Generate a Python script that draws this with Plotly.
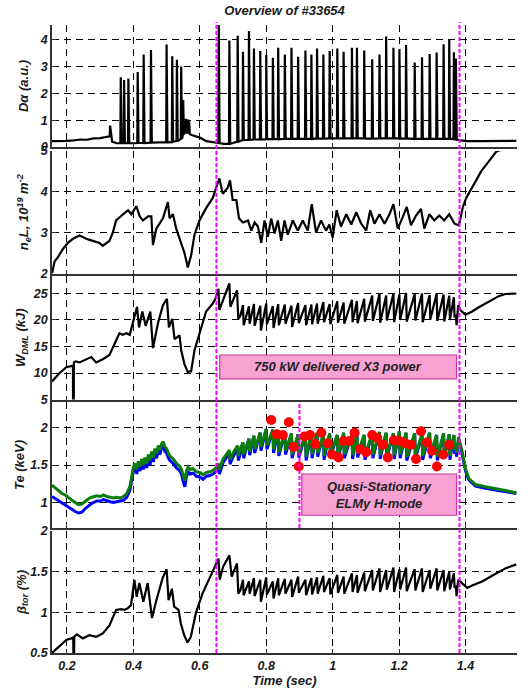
import plotly.graph_objects as go

# ---------------- data ----------------
X_RANGE = [0.155, 1.555]
X_TICKS = [0.2, 0.4, 0.6, 0.8, 1.0, 1.2, 1.4]
X_TICK_TEXT = ["0.2", "0.4", "0.6", "0.8", "1", "1.2", "1.4"]

# D-alpha baseline (time, a.u.)
DA_BASE_T = [0.155, 0.18, 0.20, 0.22, 0.24, 0.26, 0.28, 0.30, 0.315, 0.325, 0.336, 0.35, 0.378, 0.40, 0.44, 0.48, 0.52, 0.540,
             0.552, 0.553, 0.555, 0.556, 0.558, 0.559, 0.561, 0.562, 0.564, 0.565, 0.567, 0.568, 0.570, 0.575, 0.585,
             0.60, 0.62, 0.64, 0.672, 0.70, 0.74, 0.80, 0.90, 1.00, 1.10, 1.20, 1.30, 1.36, 1.38, 1.40, 1.45, 1.50, 1.553]
DA_BASE_V = [0.22, 0.22, 0.23, 0.25, 0.28, 0.27, 0.32, 0.33, 0.37, 0.40, 0.20, 0.14, 0.13, 0.14, 0.16, 0.17, 0.20, 0.30,
             0.50, 1.05, 0.50, 1.00, 0.52, 1.05, 0.50, 1.00, 0.52, 1.02, 0.50, 0.95, 0.48, 0.45, 0.42,
             0.35, 0.22, 0.18, 0.12, 0.15, 0.26, 0.28, 0.30, 0.32, 0.31, 0.32, 0.30, 0.30, 0.26, 0.22, 0.22, 0.23, 0.23]
# L-mode / dithering spikes
L_SPIKE_T = [0.330, 0.362, 0.372, 0.385, 0.413, 0.431, 0.453, 0.500, 0.517, 0.531, 0.544, 0.550]
L_SPIKE_V = [0.80, 2.60, 2.50, 2.55, 2.80, 3.45, 3.62, 3.82, 3.38, 3.25, 3.00, 1.75]
L_SPIKE_FOOT = [0.40, 0.14, 0.14, 0.14, 0.15, 0.15, 0.16, 0.17, 0.18, 0.22, 0.30, 0.45]
# ELMs in H-mode
ELM_T = [0.657, 0.689, 0.714, 0.730, 0.748, 0.763, 0.782, 0.800, 0.820, 0.836, 0.856, 0.876, 0.896, 0.918,
         0.936, 0.953, 0.972, 0.991, 1.014, 1.033, 1.058, 1.073, 1.095, 1.119, 1.141, 1.161, 1.183, 1.201,
         1.221, 1.247, 1.269, 1.292, 1.313, 1.334, 1.351, 1.365, 1.371]
ELM_PEAK = [4.60, 3.97, 4.15, 3.55, 4.33, 3.67, 3.58, 3.43, 3.33, 3.70, 3.45, 3.70, 3.37, 3.60, 3.45, 3.67,
            3.45, 3.58, 3.67, 3.55, 3.70, 3.70, 3.60, 3.27, 3.45, 4.12, 3.70, 3.65, 3.80, 3.15, 3.35, 3.47,
            3.52, 3.83, 4.00, 3.53, 3.30]
ELM_FOOT = [0.15, 0.12, 0.20, 0.26, 0.27, 0.28, 0.28, 0.29, 0.30, 0.29, 0.30, 0.31, 0.30, 0.31, 0.30, 0.32,
            0.31, 0.32, 0.33, 0.32, 0.32, 0.33, 0.32, 0.31, 0.32, 0.32, 0.33, 0.31, 0.32, 0.30, 0.31, 0.30,
            0.31, 0.30, 0.30, 0.29, 0.28]

# line-integrated density n_e L (1e19 m^-2)
NE_T = [0.155, 0.163, 0.173, 0.188, 0.203, 0.218, 0.238, 0.258, 0.278, 0.298, 0.308, 0.328, 0.338, 0.348, 0.369,
        0.384, 0.394, 0.409, 0.419, 0.429, 0.444, 0.454, 0.459, 0.469, 0.489, 0.504, 0.509, 0.519, 0.529, 0.544,
        0.554, 0.564, 0.574, 0.584, 0.599, 0.619, 0.639, 0.647, 0.659, 0.669, 0.684, 0.691, 0.699, 0.710, 0.718,
        0.730, 0.745, 0.755, 0.765, 0.775, 0.785, 0.795, 0.805, 0.815, 0.825, 0.835, 0.845, 0.855, 0.865, 0.880,
        0.895, 0.910, 0.925, 0.937, 0.950, 0.965, 0.980, 0.990, 1.000, 1.012, 1.025, 1.041, 1.056, 1.071, 1.086,
        1.101, 1.113, 1.126, 1.141, 1.156, 1.171, 1.183, 1.196, 1.211, 1.223, 1.236, 1.251, 1.266, 1.276, 1.291,
        1.306, 1.321, 1.336, 1.351, 1.367, 1.380, 1.392, 1.402, 1.417, 1.432, 1.447, 1.462, 1.477, 1.492, 1.502, 1.553]
NE_V = [2.00, 2.30, 2.40, 2.60, 2.75, 2.85, 2.93, 2.85, 2.80, 2.75, 2.68, 2.80, 3.00, 3.30, 3.45,
        3.55, 3.45, 3.65, 3.40, 3.30, 3.40, 3.40, 2.70, 3.10, 3.35, 3.75, 3.35, 3.45, 3.10, 2.75,
        2.50, 2.15, 2.45, 2.95, 3.30, 3.60, 3.85, 4.05, 4.33, 3.95, 4.10, 4.28, 3.80, 3.80, 3.35,
        3.25, 3.30, 3.05, 3.25, 3.15, 2.75, 3.30, 2.90, 3.35, 2.98, 3.30, 2.80, 3.30, 2.95, 3.30,
        3.05, 3.30, 3.05, 3.70, 3.00, 3.30, 3.05, 3.20, 2.88, 3.55, 3.15, 3.45, 3.20, 3.50, 3.22,
        3.05, 3.55, 3.22, 3.45, 3.22, 3.45, 3.70, 3.10, 3.38, 3.63, 3.18, 3.42, 3.58, 3.10, 3.45,
        3.30, 3.42, 3.30, 3.45, 3.22, 3.18, 3.63, 3.85, 4.05, 4.28, 4.50, 4.65, 4.82, 4.98, 5.02, 5.05]

# stored energy W_DML (kJ)
W_PRE_T = [0.155, 0.178, 0.198, 0.213, 0.218, 0.2185, 0.2205, 0.221, 0.226, 0.238, 0.258, 0.273, 0.288, 0.308,
           0.328, 0.348, 0.358, 0.368, 0.379, 0.389, 0.399, 0.411, 0.417, 0.427, 0.437, 0.451, 0.459, 0.474,
           0.489, 0.501, 0.507, 0.517, 0.524, 0.539, 0.544, 0.554, 0.564, 0.574, 0.584, 0.599, 0.619, 0.639,
           0.647, 0.656, 0.659, 0.674, 0.689, 0.692, 0.712, 0.716, 0.722]
W_PRE_V = [8.4, 10.0, 11.1, 11.3, 11.4, 3.0, 3.0, 12.0, 12.2, 12.0, 12.5, 13.0, 12.0, 12.6,
           13.4, 16.2, 17.5, 17.2, 17.5, 17.2, 19.4, 22.5, 18.6, 21.6, 18.9, 21.6, 14.7, 19.4,
           22.8, 24.0, 18.6, 20.2, 16.4, 17.1, 14.3, 11.6, 10.2, 10.3, 14.3, 17.5, 21.6, 23.1,
           24.0, 25.9, 21.9, 24.4, 26.9, 22.5, 25.6, 20.2, 20.8]
W_PEAK = [22.8, 22.6, 23.0, 22.7, 23.1, 22.6, 23.0, 22.9, 22.7, 23.2, 22.8, 22.9, 23.1, 23.4, 23.0, 23.5, 23.3,
          23.8, 23.6, 24.0, 24.6, 24.9, 24.6, 25.0, 24.8, 25.1, 24.9, 25.0, 24.7, 25.0, 24.8, 24.6, 24.3, 21.0]
W_TROUGH = [19.0, 19.3, 18.9, 18.0, 19.2, 18.5, 19.0, 19.3, 18.7, 19.4, 19.0, 19.2, 19.3, 19.6, 19.2, 19.5, 19.3,
            19.6, 19.4, 19.7, 19.8, 19.5, 19.9, 19.6, 20.0, 19.7, 19.9, 19.6, 20.1, 19.8, 19.7, 20.0, 20.5, 19.0]
W_POST_T = [1.378, 1.385, 1.400, 1.420, 1.440, 1.460, 1.500, 1.520, 1.553]
W_POST_V = [22.8, 21.8, 21.0, 21.6, 22.4, 23.1, 24.5, 24.9, 25.0]

# electron temperature Te (keV): green and blue channels
TE_PRE_T = [0.155, 0.165, 0.175, 0.185, 0.195, 0.205, 0.215, 0.225, 0.235, 0.245, 0.255, 0.265, 0.275, 0.29, 0.30,
            0.31, 0.32, 0.33, 0.34, 0.35, 0.36, 0.37, 0.38, 0.39, 0.395, 0.40, 0.405, 0.41, 0.415, 0.42, 0.425,
            0.43, 0.435, 0.44, 0.445, 0.45, 0.455, 0.46, 0.465, 0.47, 0.475, 0.48, 0.485, 0.49, 0.495, 0.50,
            0.505, 0.51, 0.52, 0.53, 0.54, 0.545, 0.55, 0.555, 0.56, 0.565, 0.57, 0.58, 0.59, 0.60, 0.61, 0.62,
            0.63, 0.64, 0.65, 0.657, 0.659, 0.67, 0.68, 0.689, 0.691, 0.70, 0.714, 0.716, 0.725]
TE_G_PRE = [1.23, 1.19, 1.16, 1.12, 1.10, 1.06, 1.03, 1.00, 0.97, 0.98, 1.02, 1.05, 1.07, 1.09, 1.08,
            1.10, 1.08, 1.07, 1.06, 1.07, 1.06, 1.08, 1.12, 1.22, 1.35, 1.47, 1.52, 1.44, 1.55, 1.48, 1.58,
            1.50, 1.60, 1.52, 1.64, 1.56, 1.68, 1.60, 1.72, 1.65, 1.76, 1.70, 1.78, 1.81, 1.74, 1.72,
            1.66, 1.62, 1.58, 1.52, 1.48, 1.44, 1.36, 1.29, 1.42, 1.47, 1.44, 1.45, 1.41, 1.40, 1.37, 1.40,
            1.41, 1.43, 1.47, 1.52, 1.44, 1.58, 1.64, 1.70, 1.57, 1.66, 1.76, 1.62, 1.75]
TE_B_PRE = [1.08, 1.05, 1.02, 0.99, 0.97, 0.94, 0.91, 0.88, 0.86, 0.87, 0.92, 0.96, 0.99, 1.02, 1.02,
            1.04, 1.02, 1.01, 1.00, 1.01, 1.01, 1.03, 1.07, 1.17, 1.30, 1.42, 1.47, 1.38, 1.50, 1.42, 1.53,
            1.44, 1.55, 1.46, 1.59, 1.50, 1.63, 1.54, 1.67, 1.59, 1.71, 1.64, 1.73, 1.76, 1.68, 1.66,
            1.60, 1.56, 1.52, 1.46, 1.42, 1.38, 1.28, 1.21, 1.35, 1.41, 1.38, 1.39, 1.35, 1.34, 1.31, 1.35,
            1.36, 1.38, 1.42, 1.48, 1.38, 1.53, 1.60, 1.66, 1.51, 1.61, 1.72, 1.56, 1.70]
TE_PEAK = [1.80, 1.85, 1.89, 1.93, 1.98, 1.97, 1.95, 1.94, 1.92, 1.91, 1.90, 1.92, 1.93, 1.91, 1.92, 1.90, 1.93,
           1.91, 1.93, 1.90, 1.92, 1.94, 1.93, 1.92, 1.95, 1.93, 1.92, 1.91, 1.93, 1.90, 1.92, 1.91, 1.90, 1.78]
TE_G_TROUGH = [1.64, 1.68, 1.71, 1.74, 1.76, 1.71, 1.67, 1.69, 1.64, 1.65, 1.61, 1.64, 1.66, 1.62, 1.65, 1.61, 1.64,
               1.63, 1.65, 1.62, 1.64, 1.63, 1.65, 1.63, 1.64, 1.61, 1.63, 1.62, 1.64, 1.61, 1.63, 1.62, 1.70, 1.66]
TE_B_TROUGH = [1.59, 1.63, 1.66, 1.69, 1.71, 1.66, 1.62, 1.64, 1.59, 1.60, 1.56, 1.59, 1.61, 1.57, 1.60, 1.56, 1.59,
               1.58, 1.60, 1.57, 1.59, 1.58, 1.60, 1.58, 1.59, 1.56, 1.58, 1.57, 1.59, 1.56, 1.58, 1.57, 1.65, 1.61]
TE_POST_T = [1.379, 1.390, 1.400, 1.410, 1.430, 1.460, 1.490, 1.520, 1.553]
TE_G_POST = [1.87, 1.68, 1.45, 1.32, 1.24, 1.21, 1.19, 1.16, 1.13]
TE_B_POST = [1.84, 1.64, 1.42, 1.30, 1.22, 1.19, 1.17, 1.15, 1.12]

# Thomson-scattering points (red dots)
TS_T = [0.815, 0.832, 0.850, 0.868, 0.882, 0.898, 0.915, 0.932, 0.948, 0.966, 0.985, 0.998, 1.018, 1.033, 1.051,
        1.066, 1.083, 1.101, 1.119, 1.134, 1.151, 1.166, 1.184, 1.201, 1.219, 1.236, 1.251, 1.266, 1.284, 1.299,
        1.314, 1.333, 1.351]
TS_TE = [2.10, 1.91, 1.90, 2.07, 1.74, 1.48, 1.88, 1.90, 1.78, 1.93, 1.79, 1.64, 1.60, 1.82, 1.82,
         1.93, 1.71, 1.67, 1.90, 1.86, 1.77, 1.60, 1.83, 1.82, 1.79, 1.77, 1.58, 1.95, 1.80, 1.69,
         1.48, 1.64, 1.77]

# toroidal beta (%)
BETA_PRE_T = [0.155, 0.175, 0.198, 0.213, 0.219, 0.2195, 0.2215, 0.222, 0.230, 0.248, 0.268, 0.288, 0.308, 0.328,
              0.348, 0.363, 0.373, 0.383, 0.393, 0.403, 0.410, 0.418, 0.430, 0.443, 0.456, 0.468, 0.488, 0.500,
              0.506, 0.516, 0.523, 0.536, 0.543, 0.553, 0.563, 0.573, 0.588, 0.608, 0.628, 0.643, 0.656, 0.660,
              0.670, 0.689, 0.696, 0.712, 0.716, 0.722]
BETA_PRE_V = [0.50, 0.58, 0.66, 0.68, 0.69, 0.45, 0.45, 0.70, 0.73, 0.68, 0.72, 0.70, 0.74, 0.84,
              1.03, 1.04, 1.03, 1.05, 1.09, 1.40, 1.19, 1.36, 1.13, 1.36, 0.93, 1.13, 1.42, 1.53,
              1.15, 1.29, 1.07, 1.03, 0.86, 0.72, 0.63, 0.70, 0.99, 1.23, 1.42, 1.54, 1.66, 1.40,
              1.56, 1.70, 1.44, 1.60, 1.23, 1.27]
BETA_PEAK = [1.40, 1.38, 1.42, 1.40, 1.43, 1.38, 1.42, 1.41, 1.40, 1.44, 1.40, 1.42, 1.43, 1.45, 1.42, 1.46, 1.44,
             1.48, 1.46, 1.49, 1.52, 1.54, 1.52, 1.55, 1.53, 1.55, 1.53, 1.54, 1.52, 1.54, 1.52, 1.50, 1.48, 1.33]
BETA_TROUGH = [1.21, 1.23, 1.20, 1.13, 1.22, 1.17, 1.21, 1.23, 1.19, 1.24, 1.21, 1.22, 1.23, 1.25, 1.22, 1.24, 1.23,
               1.25, 1.24, 1.26, 1.27, 1.25, 1.28, 1.25, 1.28, 1.26, 1.27, 1.25, 1.29, 1.27, 1.26, 1.28, 1.30, 1.20]
BETA_POST_T = [1.378, 1.390, 1.405, 1.420, 1.450, 1.480, 1.520, 1.553]
BETA_POST_V = [1.40, 1.35, 1.30, 1.33, 1.38, 1.45, 1.54, 1.59]

# event markers (s)
PHASE_LINES = [0.65, 1.382]
QS_START = 0.90
BOX1 = dict(x0=0.660, x1=1.373, y0=8.9, y1=13.4, text="750 kW delivered X3 power")
BOX2 = dict(x0=0.907, x1=1.373, y0=0.83, y1=1.38, text="Quasi-Stationary<br>ELMy H-mode")


# ---------------- helpers ----------------
def spikes(base_t, base_v, spk_t, spk_v, spk_foot):
    pts = list(zip(base_t, base_v))
    for t, v, f in zip(spk_t, spk_v, spk_foot):
        pts += [(t - 0.0012, f), (t, v), (t + 0.0025, f)]
    pts.sort(key=lambda p: p[0])
    return [p[0] for p in pts], [p[1] for p in pts]


def sawtooth(pre_t, pre_v, elm_t, peaks, troughs, post_t, post_v):
    t, v = list(pre_t), list(pre_v)
    for ti, p, q in zip(elm_t, peaks, troughs):
        t += [ti, ti + 0.002]
        v += [p, q]
    return t + list(post_t), v + list(post_v)


H_ELMS = ELM_T[3:]

da_t, da_v = spikes(DA_BASE_T, DA_BASE_V, L_SPIKE_T + ELM_T, L_SPIKE_V + ELM_PEAK, L_SPIKE_FOOT + ELM_FOOT)
w_t, w_v = sawtooth(W_PRE_T, W_PRE_V, H_ELMS, W_PEAK, W_TROUGH, W_POST_T, W_POST_V)
teg_t, teg_v = sawtooth(TE_PRE_T, TE_G_PRE, H_ELMS, TE_PEAK, TE_G_TROUGH, TE_POST_T, TE_G_POST)
teb_t, teb_v = sawtooth(TE_PRE_T, TE_B_PRE, H_ELMS, TE_PEAK, TE_B_TROUGH, TE_POST_T, TE_B_POST)
b_t, b_v = sawtooth(BETA_PRE_T, BETA_PRE_V, H_ELMS, BETA_PEAK, BETA_TROUGH, BETA_POST_T, BETA_POST_V)

# ---------------- figure ----------------
W_PX, H_PX = 532, 691
PANELS_PX = [(25, 147), (151, 273.5), (276, 399.5), (402, 528), (531, 653)]
DOMAINS = [[1 - b / H_PX, 1 - t / H_PX] for t, b in PANELS_PX]

FONT = dict(family="Liberation Sans, Arial, sans-serif", size=12.5, color="#1a1a1a", weight="bold", style="italic")
TFONT = dict(FONT, size=13)

fig = go.Figure()
fig.add_trace(go.Scatter(x=da_t, y=da_v, mode="lines", line=dict(color="black", width=2.2), xaxis="x", yaxis="y"))
fig.add_trace(go.Scatter(x=NE_T, y=NE_V, mode="lines", line=dict(color="black", width=2.2), xaxis="x2", yaxis="y2"))
fig.add_trace(go.Scatter(x=w_t, y=w_v, mode="lines", line=dict(color="black", width=2.2), xaxis="x3", yaxis="y3"))
fig.add_trace(go.Scatter(x=teb_t, y=teb_v, mode="lines", line=dict(color="#0000ff", width=3), xaxis="x4", yaxis="y4"))
fig.add_trace(go.Scatter(x=teg_t, y=teg_v, mode="lines", line=dict(color="#0a7d0a", width=3), xaxis="x4", yaxis="y4"))
fig.add_trace(go.Scatter(x=TS_T, y=TS_TE, mode="markers", marker=dict(color="#ff0000", size=10, line=dict(width=0)),
                         xaxis="x4", yaxis="y4"))
fig.add_trace(go.Scatter(x=b_t, y=b_v, mode="lines", line=dict(color="black", width=2.2), xaxis="x5", yaxis="y5"))

Y_SPECS = [
    ("Dα (a.u.)", [0, 4.55], [0, 1, 2, 3, 4], ["0", "1", "2", "3", "4"], 8),
    ("n<sub>e</sub>L, 10<sup>19</sup> m<sup>-2</sup>", [2, 5], [2, 3, 4, 5], ["2", "3", "4", "5"], 8),
    ("W<sub>DML</sub> (kJ)", [5, 28.3], [5, 10, 15, 20, 25], ["5", "10", "15", "20", "25"], 4),
    ("Te (keV)", [0.66, 2.34], [1, 1.5, 2], ["1", "1.5", "2"], 3),
    ("β<sub>tor</sub> (%)", [0.5, 2], [0.5, 1, 1.5, 2], ["0.5", "1", "1.5", "2"], 1),
]

GRID = dict(showgrid=True, gridcolor="black", gridwidth=1, griddash="7px,5px", zeroline=False)

layout = dict(
    width=W_PX, height=H_PX, margin=dict(l=52, r=15, t=0, b=0),
    paper_bgcolor="white", plot_bgcolor="white", showlegend=False, font=FONT,
    title=dict(text="Overview of #33654", x=284.5 / W_PX, xref="container", xanchor="center",
               y=1 - 10 / H_PX, yref="container", yanchor="middle", font=TFONT),
)
for i, (title, rng, tv, tt, standoff) in enumerate(Y_SPECS):
    n = "" if i == 0 else str(i + 1)
    last = i == len(Y_SPECS) - 1
    layout["xaxis" + n] = dict(
        domain=[0, 1], range=X_RANGE, anchor="y" + n, tickvals=X_TICKS, ticktext=X_TICK_TEXT,
        showticklabels=last, ticks="inside", ticklen=4, tickcolor="#333", showline=True,
        linecolor="#333", linewidth=2, tickfont=FONT, automargin=False,
        title=dict(text="Time (sec)", font=TFONT, standoff=2) if last else None,
        **GRID)
    if i > 0:
        layout["xaxis" + n]["matches"] = "x"
    layout["yaxis" + n] = dict(
        domain=DOMAINS[i], range=rng, anchor="x" + n, tickvals=tv, ticktext=tt, ticks="inside", ticklen=4,
        tickcolor="#333", showline=True, linecolor="#333", linewidth=1.5, tickfont=FONT, automargin=False,
        title=dict(text=title, font=TFONT, standoff=standoff), **GRID)
fig.update_layout(**layout)

# magenta phase lines spanning all panels
top_paper = 1 - 22 / H_PX
for xv in PHASE_LINES:
    fig.add_shape(type="line", xref="x", yref="paper", x0=xv, x1=xv, y0=DOMAINS[4][0], y1=top_paper,
                  line=dict(color="#ff00ff", width=2, dash="4px,2px"), layer="above")
fig.add_shape(type="line", xref="x4", yref="paper", x0=QS_START, x1=QS_START, y0=DOMAINS[3][0], y1=DOMAINS[3][1],
              line=dict(color="#ff00ff", width=2, dash="4px,2px"), layer="above")

# annotation boxes
for box, xr, yr in [(BOX1, "x3", "y3"), (BOX2, "x4", "y4")]:
    fig.add_shape(type="rect", xref=xr, yref=yr, x0=box["x0"], x1=box["x1"], y0=box["y0"], y1=box["y1"],
                  fillcolor="#f8a2d4", line=dict(color="#c8389c", width=1.2), layer="above")
    fig.add_annotation(xref=xr, yref=yr, x=(box["x0"] + box["x1"]) / 2, y=(box["y0"] + box["y1"]) / 2,
                       text=box["text"], showarrow=False, font=dict(TFONT, color="#222"))

fig.write_html("out.html", config={"displayModeBar": False},
               post_script="document.body.style.margin='0px';")
